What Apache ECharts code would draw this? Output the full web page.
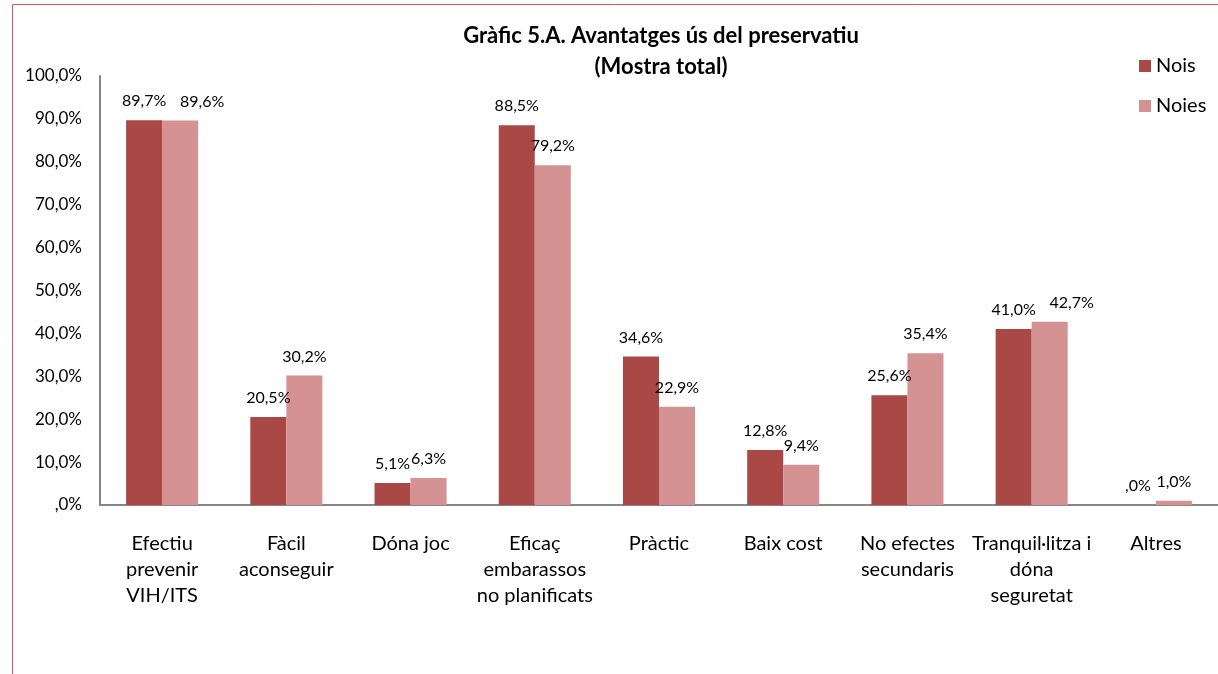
<!DOCTYPE html>
<html>
<head>
<meta charset="utf-8">
<script src="https://cdn.jsdelivr.net/npm/echarts@6/dist/echarts.min.js"></script>
<style>
  html, body { margin: 0; padding: 0; background: #fff; }
  #chart { width: 1218px; height: 674px; }
</style>
</head>
<body>
<div id="chart"></div>
<script>
// categories and values (percent)
var categories = [
    'Efectiu\nprevenir\nVIH/ITS',
    'Fàcil\naconseguir',
    'Dóna joc',
    'Eficaç\nembarassos\nno planificats',
    'Pràctic',
    'Baix cost',
    'No efectes\nsecundaris',
    'Tranquil·litza i\ndóna\nseguretat',
    'Altres'
];
var nois = [89.7, 20.5, 5.1, 88.5, 34.6, 12.8, 25.6, 41.0, 0.0];
var noies = [89.6, 30.2, 6.3, 79.2, 22.9, 9.4, 35.4, 42.7, 1.0];

var FONT = 'Lato, "Open Sans", sans-serif';

// 0 -> ",0%" like the spreadsheet
function pct(v) {
    var s = Number(v).toFixed(1).replace('.', ',');
    if (s.indexOf('0,') === 0) s = s.substring(1);
    return s + '%';
}

// labels nudged right where they would collide (as Excel did)
var nudged = [0, 7];
var noiesData = noies.map(function (v, i) {
    if (nudged.indexOf(i) >= 0) return { value: v, label: { offset: [22, 0] } };
    return v;
});

var chart = echarts.init(document.getElementById('chart'));
var option = {
    animation: false,
    title: {
        text: 'Gràfic 5.A. Avantatges ús del preservatiu\n(Mostra total)',
        left: 656,
        textAlign: 'center',
        top: 15,
        textStyle: {
            fontFamily: FONT,
            fontSize: 22,
            fontWeight: 'bold',
            color: '#000',
            lineHeight: 31
        }
    },
    legend: {
        orient: 'vertical',
        left: 1134,
        top: 51,
        itemWidth: 12,
        itemHeight: 12,
        itemGap: 20,
        icon: 'rect',
        textStyle: { fontFamily: FONT, fontSize: 20, color: '#000' },
        data: ['Nois', 'Noies']
    },
    graphic: [{
        type: 'rect',
        shape: { x: 12.5, y: 4.5, width: 1300, height: 720 },
        style: { fill: 'none', stroke: '#D05A57', lineWidth: 1 },
        silent: true
    }],
    grid: {
        left: 100,
        top: 76,
        width: 1121,
        height: 429
    },
    xAxis: {
        type: 'category',
        data: categories,
        axisLine: { lineStyle: { color: '#868686', width: 2 } },
        axisTick: { show: false },
        axisLabel: {
            interval: 0,
            margin: 26,
            fontFamily: FONT,
            fontSize: 20,
            lineHeight: 26,
            color: '#000'
        }
    },
    yAxis: {
        type: 'value',
        min: 0,
        max: 100,
        interval: 10,
        splitLine: { show: false },
        axisLine: { show: true, lineStyle: { color: '#868686', width: 2 } },
        axisTick: { show: false },
        axisLabel: {
            margin: 18,
            fontFamily: FONT,
            fontSize: 17,
            color: '#000',
            formatter: pct
        }
    },
    series: [{
        name: 'Nois',
        type: 'bar',
        data: nois,
        barGap: '0%',
        barCategoryGap: '42%',
        itemStyle: { color: '#AA4846' },
        label: {
            show: true,
            position: 'top',
            distance: 11,
            fontFamily: FONT,
            fontSize: 16,
            color: '#000',
            formatter: function (p) { return pct(p.value); }
        }
    }, {
        name: 'Noies',
        type: 'bar',
        data: noiesData,
        itemStyle: { color: '#D49392' },
        label: {
            show: true,
            position: 'top',
            distance: 11,
            fontFamily: FONT,
            fontSize: 16,
            color: '#000',
            formatter: function (p) { return pct(p.value); }
        }
    }]
};
chart.setOption(option);
</script>
</body>
</html>
